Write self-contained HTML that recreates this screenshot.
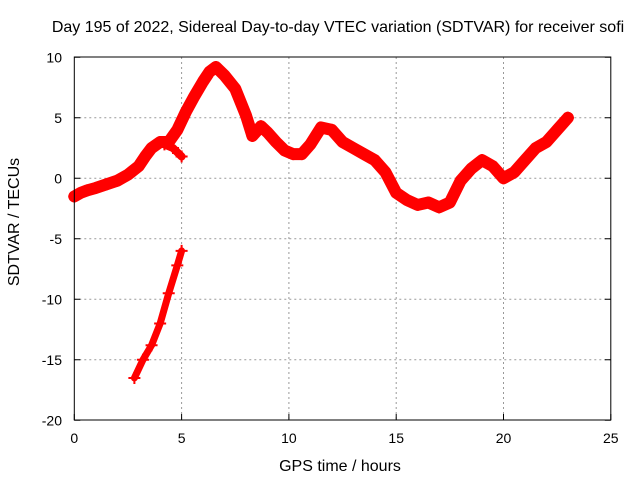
<!DOCTYPE html>
<html><head><meta charset="utf-8"><style>
body{margin:0;background:#fff}
svg{display:block;font-family:"Liberation Sans",sans-serif}
</style></head><body>
<svg id="chart" width="640" height="480">
<rect x="0" y="0" width="640" height="480" fill="#fff"/>
<text x="338" y="32" text-anchor="middle" font-size="16">Day 195 of 2022, Sidereal Day-to-day VTEC variation (SDTVAR) for receiver sofi</text>
<g id="grid"></g><g id="ticks"></g><g id="series"></g>
<rect x="74.3" y="57" width="536.5" height="363" fill="none" stroke="#000" stroke-width="1"/>
<text x="340" y="471" text-anchor="middle" font-size="16">GPS time / hours</text>
<text transform="translate(19,222) rotate(-90)" text-anchor="middle" font-size="16">SDTVAR / TECUs</text>
</svg>
<script>
const xTicks=[0,5,10,15,20,25];
const yTicks=[10,5,0,-5,-10,-15,-20];
const mainT=[0,0.3,0.6,1,1.5,2,2.5,3,3.3,3.6,4,4.4,4.8,5.2,5.6,6,6.3,6.6,7,7.5,8,8.3,8.7,9,9.4,9.8,10.2,10.6,11,11.5,12,12.5,13,13.5,14,14.5,15,15.5,16,16.5,17,17.5,18,18.5,19,19.5,20,20.5,21,21.5,22,22.5,23];
const mainV=[-1.5,-1.2,-1,-0.8,-0.5,-0.2,0.3,1,1.8,2.5,3,3,4,5.5,6.8,8,8.8,9.2,8.5,7.4,5.2,3.5,4.3,3.8,3,2.3,2,2,2.8,4.2,4,3,2.5,2,1.5,0.5,-1.2,-1.8,-2.2,-2,-2.4,-2,-0.2,0.8,1.5,1,0,0.5,1.5,2.5,3,4,5];
const branchT=[4.2,4.6,5];
const branchV=[2.8,2.5,1.8];
const lowT=[2.8,3.2,3.6,4,4.4,4.8,5];
const lowV=[-16.5,-15,-13.8,-12,-9.5,-7.2,-6];
const X=t=>74.3+t*21.46, Y=v=>178.3-v*12.1;
const ns="http://www.w3.org/2000/svg";
function mk(tag,par){const e=document.createElementNS(ns,tag);document.getElementById(par).appendChild(e);return e;}
xTicks.forEach(t=>{
 if(t>0&&t<25){const g=mk('line','grid');g.setAttribute('x1',X(t));g.setAttribute('x2',X(t));g.setAttribute('y1',57);g.setAttribute('y2',420);g.setAttribute('stroke','#999');g.setAttribute('stroke-dasharray','2,3');
 
 }
 const l=mk('text','ticks');l.setAttribute('x',X(t));l.setAttribute('y',443);l.setAttribute('text-anchor','middle');l.setAttribute('font-size','14');l.textContent=t;
 
 
 const m=mk('line','ticks');m.setAttribute('x1',X(t));m.setAttribute('x2',X(t));m.setAttribute('y1',414);m.setAttribute('y2',420);m.setAttribute('stroke','#000');
 
 
});
yTicks.forEach(v=>{
 if(v>-20&&v<10){const g=mk('line','grid');g.setAttribute('x1',74.3);g.setAttribute('x2',610.8);g.setAttribute('y1',Y(v));g.setAttribute('y2',Y(v));g.setAttribute('stroke','#999');g.setAttribute('stroke-dasharray','2,3');
 
 }
 const l=mk('text','ticks');l.setAttribute('x',62);l.setAttribute('y',Y(v)+5);l.setAttribute('text-anchor','end');l.setAttribute('font-size','14');l.textContent=v;
 
 
 const m=mk('path','ticks');m.setAttribute('d',`M74.3 ${Y(v)}h6M610.8 ${Y(v)}h-6`);m.setAttribute('stroke','#000');
 
 
});
function series(T,V,name,w){
 const p=mk('polyline','series');p.setAttribute('points',T.map((t,i)=>X(t)+','+Y(V[i])).join(' '));
 p.setAttribute('fill','none');p.setAttribute('stroke','#f00');p.setAttribute('stroke-width',w);p.setAttribute('stroke-linejoin','round');p.setAttribute('stroke-linecap','round');
 
 
 T.forEach((t,i)=>{const m=mk('path','series');m.setAttribute('d',`M${X(t)-6} ${Y(V[i])}h12M${X(t)} ${Y(V[i])-6}v12`);m.setAttribute('stroke','#f00');m.setAttribute('stroke-width','2');
  
  });
}
series(mainT,mainV,'sdtvar-main',12);
series(branchT,branchV,'sdtvar-branch',8);
series(lowT,lowV,'sdtvar-low',7);
</script>
</body></html>
